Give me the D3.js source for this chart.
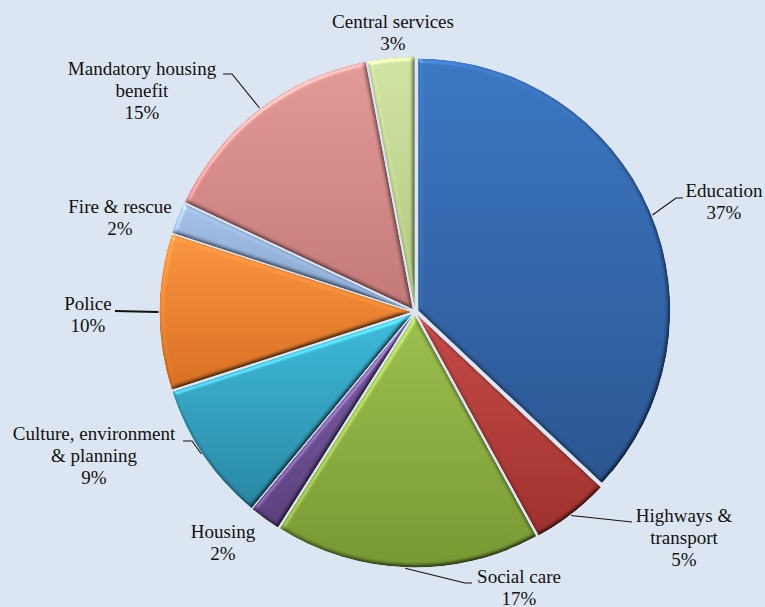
<!DOCTYPE html>
<html>
<head>
<meta charset="utf-8">
<script src="https://cdn.jsdelivr.net/npm/d3@7"></script>
<style>
  html, body { margin: 0; padding: 0; background: #dce6f2; }
  svg { display: block; }
  text { font-family: "Liberation Serif", "Times New Roman", serif; font-size: 19px; fill: #111; }
</style>
</head>
<body>
<svg id="chart" width="765" height="607"></svg>
<script>
// Spending categories, clockwise from 12 o'clock
const categories = [
  "Education",
  "Highways &\ntransport",
  "Social care",
  "Housing",
  "Culture, environment\n& planning",
  "Police",
  "Fire & rescue",
  "Mandatory housing\nbenefit",
  "Central services"
];
const shares = [37, 5, 17, 2, 9, 10, 2, 15, 3];

// Slice fills: lighter top stop, darker bottom stop
const topColors    = ["#3b76c2", "#c44a46", "#9cbf4e", "#7e5fa6", "#3dbbd9", "#f9943f", "#a4c0e6", "#e29a98", "#d0e3a2"];
const bottomColors = ["#2a5590", "#9e302c", "#779832", "#5a407c", "#2886a2", "#d86f22", "#86a4ce", "#c27876", "#b0c77e"];

// Label placement: centre x, first baseline y, leader anchor angle (deg) and leader bend points
const labelLayout = [
  { x: 724, y: 197, anchor: 67.8,  bend: [[676, 198], [683, 198]] },
  { x: 684, y: 522, anchor: 142.5, bend: [[632, 522]] },
  { x: 519, y: 583, anchor: 182.2, bend: [[465, 583], [472, 583]] },
  { x: 223, y: 538, anchor: null,  bend: [] },
  { x: 94,  y: 440, anchor: 236.4, bend: [[192, 441], [183, 441]] },
  { x: 88,  y: 310, anchor: 270,   bend: [[115, 311]], thick: true },
  { x: 120, y: 213, anchor: null,  bend: [] },
  { x: 142, y: 75,  anchor: 322.7, bend: [[232, 74], [223, 74]] },
  { x: 393, y: 28,  anchor: null,  bend: [] }
];

const W = 765, H = 607;
const cx = 415, cy = 312, R = 252, explode = 3.5, lineH = 22;

const svg = d3.select("#chart");
svg.append("rect").attr("width", W).attr("height", H).attr("fill", "#dce6f2");

const defs = svg.append("defs");

// Soft bevel: diffuse shading from the upper left plus a thin specular rim
const f = defs.append("filter").attr("id", "bevel")
  .attr("color-interpolation-filters", "sRGB")
  .attr("x", "-5%").attr("y", "-5%").attr("width", "110%").attr("height", "110%");
f.append("feGaussianBlur").attr("in", "SourceAlpha").attr("stdDeviation", 2).attr("result", "blur");
f.append("feDiffuseLighting").attr("in", "blur").attr("surfaceScale", 2.5)
  .attr("diffuseConstant", 1).attr("lighting-color", "#ffffff").attr("result", "diff")
  .append("feDistantLight").attr("azimuth", 235).attr("elevation", 60);
f.append("feComposite").attr("in", "SourceGraphic").attr("in2", "diff")
  .attr("operator", "arithmetic").attr("k1", 1.155).attr("k2", 0).attr("k3", 0).attr("k4", 0)
  .attr("result", "shaded");
f.append("feSpecularLighting").attr("in", "blur").attr("surfaceScale", 2.5)
  .attr("specularConstant", 0.35).attr("specularExponent", 40)
  .attr("lighting-color", "#ffffff").attr("result", "spec")
  .append("feDistantLight").attr("azimuth", 235).attr("elevation", 40);
f.append("feComposite").attr("in", "spec").attr("in2", "SourceAlpha").attr("operator", "in").attr("result", "specIn");
f.append("feComposite").attr("in", "shaded").attr("in2", "specIn")
  .attr("operator", "arithmetic").attr("k1", 0).attr("k2", 1).attr("k3", 0.5).attr("k4", 0)
  .attr("result", "lit");
f.append("feComposite").attr("in", "lit").attr("in2", "SourceAlpha").attr("operator", "in");

categories.forEach((c, i) => {
  const g = defs.append("linearGradient").attr("id", "grad" + i)
    .attr("x1", 0).attr("y1", 0).attr("x2", 0).attr("y2", 1);
  g.append("stop").attr("offset", "0%").attr("stop-color", topColors[i]);
  g.append("stop").attr("offset", "100%").attr("stop-color", bottomColors[i]);
});

const pie = d3.pie().sort(null).value(d => d).startAngle(0).endAngle(2 * Math.PI);
const arcs = pie(shares);
const arc = d3.arc().innerRadius(0).outerRadius(R);

const slices = svg.append("g").attr("transform", `translate(${cx},${cy})`);
slices.selectAll("path")
  .data(arcs)
  .join("path")
  .attr("d", arc)
  .attr("fill", (d, i) => `url(#grad${i})`)
  .attr("filter", "url(#bevel)")
  .attr("transform", d => {
    const m = (d.startAngle + d.endAngle) / 2;
    return `translate(${explode * Math.sin(m)},${-explode * Math.cos(m)})`;
  });

// Leader lines from the slice rim towards each label
const leaders = svg.append("g").attr("fill", "none").attr("stroke", "#111");
arcs.forEach((d, i) => {
  const L = labelLayout[i];
  if (L.anchor === null) return;
  const m = (d.startAngle + d.endAngle) / 2;
  const a = L.anchor * Math.PI / 180;
  const ox = cx + explode * Math.sin(m), oy = cy - explode * Math.cos(m);
  const start = [ox + (R + 1) * Math.sin(a), oy - (R + 1) * Math.cos(a)];
  const pts = [start, ...L.bend];
  leaders.append("path")
    .attr("d", d3.line()(pts))
    .attr("stroke-width", L.thick ? 2.2 : 1.1);
});

// Category name and share
const labels = svg.append("g").attr("text-anchor", "middle");
arcs.forEach((d, i) => {
  const L = labelLayout[i];
  const lines = categories[i].split("\n").concat([d.data + "%"]);
  const t = labels.append("text").attr("x", L.x).attr("y", L.y);
  lines.forEach((s, k) => {
    t.append("tspan").attr("x", L.x).attr("y", L.y + k * lineH).text(s);
  });
});
</script>
</body>
</html>
